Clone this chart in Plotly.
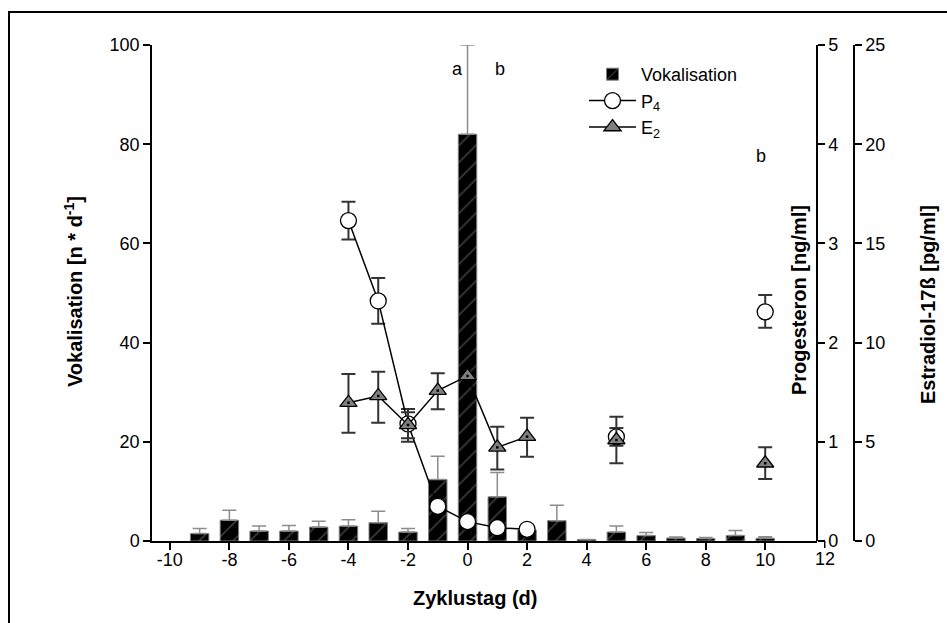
import plotly.graph_objects as go

# Vocalisation counts per day of the cycle (mean and upper error)
bar_days = list(range(-9, 11))
vokalisation = [1.5, 4.2, 2.0, 2.0, 2.8, 3.0, 3.7, 1.8, 12.4, 82.0,
                8.9, 2.2, 4.1, 0.3, 1.8, 1.1, 0.6, 0.5, 1.1, 0.55]
vokalisation_err = [1.0, 2.0, 1.0, 1.1, 1.2, 1.3, 2.3, 0.7, 4.7, 18.0,
                    4.9, 0.0, 3.1, 0.0, 1.2, 0.6, 0.2, 0.2, 1.0, 0.3]

# Hormone measurements (None = no sample that day)
hormone_days = list(range(-4, 11))
p4 = [3.23, 2.42, 1.18, 0.35, 0.195, 0.134, 0.118, None, None, 1.05,
      None, None, None, None, 2.31]
p4_err_plus = [0.19, 0.23, 0.15, 0.0, 0.0, 0.0, 0.0, 0, 0, 0.09, 0, 0, 0, 0, 0.17]
p4_err_minus = [0.19, 0.23, 0.18, 0.0, 0.0, 0.0, 0.0, 0, 0, 0.09, 0, 0, 0, 0, 0.16]

e2 = [6.97, 7.31, 5.85, 7.58, 8.32, 4.72, 5.26, None, None, 5.09,
      None, None, None, None, 3.92]
e2_err_plus = [1.45, 1.22, 0.64, 0.87, 0.0, 1.04, 0.95, 0, 0, 1.17, 0, 0, 0, 0, 0.80]
e2_err_minus = [1.51, 1.35, 0.67, 0.94, 0.0, 1.11, 1.01, 0, 0, 1.17, 0, 0, 0, 0, 0.80]

# Significance letters: (day, vocalisation-axis height, text)
letters_x = [-0.33, 1.1, 9.86]
letters_y = [95.1, 95.1, 77.6]
letters_txt = ["a", "b", "b"]

x_ticks = list(range(-10, 11, 2))

FONT = "Liberation Sans, Arial, sans-serif"
W, H = 947, 623
ML, MR, MT, MB = 152, 93, 45, 82
plot_w = W - ML - MR
plot_h = H - MT - MB
x_end_px = 817                      # where the progesterone axis sits
x_dom_end = (x_end_px - ML) / plot_w
x_range = [-10.6, 11.74]


def px_to_paper_x(px):
    return (px - ML) / plot_w


def px_to_paper_y(py):
    return (H - MB - py) / plot_h


fig = go.Figure()

fig.add_trace(go.Bar(
    x=bar_days, y=vokalisation, name="Vokalisation", width=0.62,
    marker=dict(color="black", line=dict(color="#808080", width=1),
                pattern=dict(shape="/", fgcolor="#8a8a8a", bgcolor="black",
                             size=12, solidity=0.12)),
    error_y=dict(type="data", symmetric=False, array=vokalisation_err,
                 arrayminus=[0] * len(vokalisation_err),
                 color="#8c8c8c", thickness=1.5, width=7),
    xaxis="x", yaxis="y",
))

fig.add_trace(go.Scatter(
    x=hormone_days, y=p4, name="P<sub>4</sub>", mode="lines+markers",
    connectgaps=False,
    line=dict(color="black", width=1.5),
    marker=dict(symbol="circle", size=16, color="white",
                line=dict(color="black", width=1.3)),
    error_y=dict(type="data", symmetric=False, array=p4_err_plus,
                 arrayminus=p4_err_minus, color="#333333", thickness=2, width=7),
    yaxis="y2",
))

fig.add_trace(go.Scatter(
    x=hormone_days, y=e2, name="E<sub>2</sub>", mode="lines+markers",
    connectgaps=False,
    line=dict(color="black", width=1.5),
    marker=dict(symbol="triangle-up", size=15, color="#808080",
                line=dict(color="black", width=1.3)),
    error_y=dict(type="data", symmetric=False, array=e2_err_plus,
                 arrayminus=e2_err_minus, color="#333333", thickness=2, width=7),
    yaxis="y3",
))

# small centre dot inside each triangle
fig.add_trace(go.Scatter(
    x=hormone_days, y=e2, mode="markers", showlegend=False, hoverinfo="skip",
    marker=dict(symbol="square", size=2.5, color="black"),
    yaxis="y3",
))

axis_common = dict(
    showline=True, linecolor="black", linewidth=1.5,
    ticks="outside", ticklen=7, tickwidth=1.5, tickcolor="black",
    showgrid=False, zeroline=False,
    tickfont=dict(family=FONT, size=18, color="black"),
)

fig.update_layout(
    width=W, height=H,
    margin=dict(l=ML, r=MR, t=MT, b=MB),
    paper_bgcolor="white", plot_bgcolor="white",
    showlegend=True,
    legend=dict(x=px_to_paper_x(584), y=px_to_paper_y(56),
                xanchor="left", yanchor="top",
                bgcolor="rgba(0,0,0,0)", borderwidth=0,
                font=dict(family=FONT, size=18, color="black"),
                itemwidth=47, tracegroupgap=0),
    xaxis=dict(domain=[0, x_dom_end], range=x_range,
               tickvals=x_ticks, ticktext=[str(v) for v in x_ticks],
               ticklabelstandoff=-5,
               anchor="y", **axis_common),
    yaxis=dict(range=[0, 100], tickvals=[0, 20, 40, 60, 80, 100],
               anchor="x", **axis_common),
    yaxis2=dict(range=[0, 5], tickvals=[0, 1, 2, 3, 4, 5],
                overlaying="y", side="right", anchor="free",
                position=x_dom_end, **axis_common),
    yaxis3=dict(range=[0, 25], tickvals=[0, 5, 10, 15, 20, 25],
                overlaying="y", side="right", anchor="free",
                position=1.0, **axis_common),
)

annotations = []
for lx, ly, lt in zip(letters_x, letters_y, letters_txt):
    annotations.append(dict(x=lx, y=ly, xref="x", yref="y", text=lt,
                            showarrow=False,
                            font=dict(family=FONT, size=18, color="black")))

# last x tick (12) lies past the right axis line
x12 = x_dom_end * (12 - x_range[0]) / (x_range[1] - x_range[0])
annotations.append(dict(x=x12, y=px_to_paper_y(559), xref="paper", yref="paper",
                        text="12", showarrow=False,
                        xanchor="center", yanchor="middle",
                        font=dict(family=FONT, size=18, color="black")))

title_font = dict(family=FONT, size=20, color="black")
title_pos = [
    (475, 598, 0, "<b>Zyklustag (d)</b>"),
    (73, 292, -90, "<b>Vokalisation [n * d<sup>-1</sup>]</b>"),
    (799, 300, -90, "<b>Progesteron [ng/ml]</b>"),
    (928, 305, -90, "<b>Estradiol-17ß [pg/ml]</b>"),
]
for tx, ty, ang, txt in title_pos:
    annotations.append(dict(x=px_to_paper_x(tx), y=px_to_paper_y(ty),
                            xref="paper", yref="paper", text=txt,
                            showarrow=False, textangle=ang,
                            xanchor="center", yanchor="middle",
                            font=title_font))
fig.update_layout(annotations=annotations)

fig.add_shape(type="line", xref="paper", yref="paper",
              x0=x12, x1=x12, y0=0, y1=-7 / plot_h,
              line=dict(color="black", width=1.5))
# outer frame
fig.add_shape(type="rect", xref="paper", yref="paper",
              x0=px_to_paper_x(9), y0=px_to_paper_y(12),
              x1=px_to_paper_x(990), y1=px_to_paper_y(660),
              line=dict(color="black", width=2))

fig.write_html("out.html")
